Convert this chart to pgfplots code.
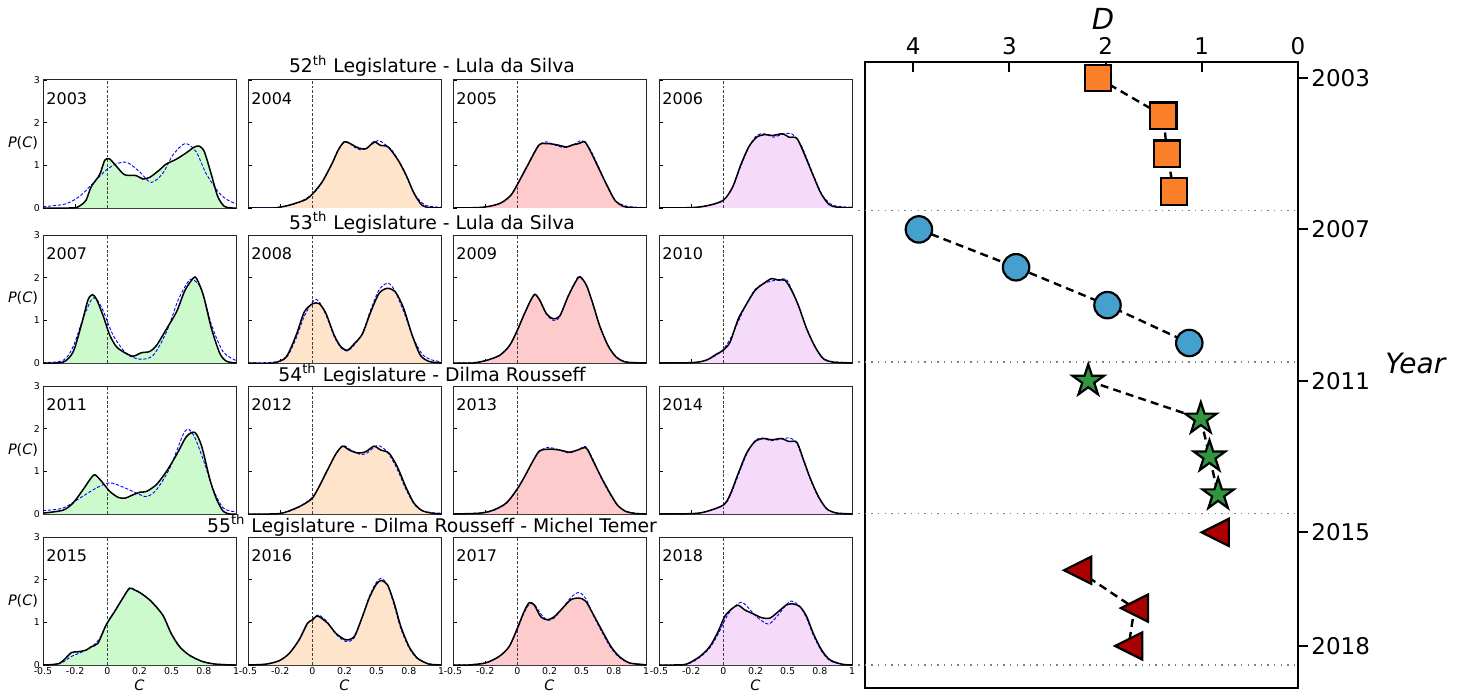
\documentclass[border=0pt]{standalone}
\usepackage{fontspec}
\setmainfont{DejaVu Sans}
\usepackage{pgfplots}
\usepackage{pgfplotstable}
\pgfplotsset{compat=1.18}

\definecolor{fgreen}{RGB}{204,250,204}
\definecolor{forange}{RGB}{253,228,203}
\definecolor{fred}{RGB}{253,203,203}
\definecolor{fpurple}{RGB}{245,218,250}
\definecolor{morange}{RGB}{250,127,40}
\definecolor{mblue}{RGB}{70,160,205}
\definecolor{mgreen}{RGB}{48,150,64}
\definecolor{mred}{RGB}{170,0,0}

\pgfdeclareplotmark{fstar}{%
  \pgfpathmoveto{\pgfqpointpolar{90}{\pgfplotmarksize}}%
  \pgfpathlineto{\pgfqpointpolar{126}{0.382\pgfplotmarksize}}%
  \pgfpathlineto{\pgfqpointpolar{162}{\pgfplotmarksize}}%
  \pgfpathlineto{\pgfqpointpolar{198}{0.382\pgfplotmarksize}}%
  \pgfpathlineto{\pgfqpointpolar{234}{\pgfplotmarksize}}%
  \pgfpathlineto{\pgfqpointpolar{270}{0.382\pgfplotmarksize}}%
  \pgfpathlineto{\pgfqpointpolar{306}{\pgfplotmarksize}}%
  \pgfpathlineto{\pgfqpointpolar{342}{0.382\pgfplotmarksize}}%
  \pgfpathlineto{\pgfqpointpolar{18}{\pgfplotmarksize}}%
  \pgfpathlineto{\pgfqpointpolar{54}{0.382\pgfplotmarksize}}%
  \pgfpathclose\pgfusepathqfillstroke}
\pgfdeclareplotmark{tleft}{%
  \pgfpathmoveto{\pgfqpoint{-\pgfplotmarksize}{0pt}}%
  \pgfpathlineto{\pgfqpoint{\pgfplotmarksize}{\pgfplotmarksize}}%
  \pgfpathlineto{\pgfqpoint{\pgfplotmarksize}{-\pgfplotmarksize}}%
  \pgfpathclose\pgfusepathqfillstroke}

% ---------------- data: black = measured P(C), fit = blue dashed ----------------
\pgfplotstableread{
x y
-0.5 0
-0.3 0
-0.24 0.01
-0.2 0.08
-0.164 0.19
-0.125 0.5
-0.06 0.78
-0.02 1.12
0.017 1.15
0.07 0.98
0.134 0.78
0.224 0.76
0.276 0.68
0.33 0.72
0.405 0.89
0.457 1.03
0.534 1.14
0.612 1.29
0.677 1.43
0.715 1.45
0.754 1.32
0.806 0.81
0.858 0.27
0.909 0.04
0.974 0
1 0
}\bA
\pgfplotstableread{
x y
-0.5 0.03
-0.4 0.06
-0.319 0.1
-0.216 0.27
-0.112 0.58
-0.009 0.89
0.082 1.05
0.159 1.06
0.25 0.85
0.34 0.6
0.43 0.81
0.509 1.24
0.604 1.51
0.69 1.32
0.767 0.81
0.87 0.35
0.94 0.18
1 0.1
}\fA
\pgfplotstableread{
x y
-0.5 0
-0.3 0
-0.267 0.01
-0.2 0.05
-0.142 0.1
-0.049 0.2
0.004 0.34
0.076 0.61
0.153 1.04
0.2 1.35
0.247 1.55
0.294 1.51
0.356 1.41
0.418 1.39
0.48 1.55
0.527 1.47
0.589 1.43
0.667 1.12
0.729 0.77
0.791 0.34
0.854 0.06
0.916 0.01
1 0
}\bB
\pgfplotstableread{
x y
-0.5 0
-0.3 0.01
-0.2 0.05
-0.1 0.14
0.0 0.32
0.076 0.6
0.153 1.04
0.2 1.36
0.26 1.56
0.33 1.42
0.38 1.36
0.43 1.42
0.51 1.58
0.56 1.5
0.62 1.35
0.68 1.05
0.74 0.68
0.8 0.3
0.87 0.08
0.94 0.03
1 0.02
}\fB
\pgfplotstableread{
x y
-0.5 0
-0.3 0.01
-0.2 0.05
-0.12 0.13
-0.05 0.3
0.0 0.55
0.08 1.0
0.166 1.47
0.228 1.51
0.291 1.49
0.35 1.45
0.384 1.43
0.43 1.48
0.478 1.51
0.525 1.55
0.572 1.31
0.634 0.92
0.697 0.53
0.759 0.18
0.822 0.04
0.884 0.01
1 0
}\bC
\pgfplotstableread{
x y
-0.5 0
-0.3 0.01
-0.2 0.05
-0.12 0.13
-0.05 0.3
0.0 0.55
0.08 1.0
0.166 1.45
0.22 1.55
0.29 1.48
0.36 1.42
0.43 1.47
0.5 1.58
0.56 1.4
0.634 0.95
0.697 0.52
0.759 0.18
0.84 0.05
0.92 0.02
1 0.01
}\fC
\pgfplotstableread{
x y
-0.5 0
-0.24 0.01
-0.116 0.06
0.0 0.18
0.072 0.49
0.134 1.0
0.197 1.43
0.259 1.66
0.322 1.72
0.384 1.7
0.462 1.74
0.509 1.66
0.572 1.63
0.634 1.23
0.697 0.77
0.759 0.34
0.822 0.08
0.884 0.02
1 0
}\bD
\pgfplotstableread{
x y
-0.5 0
-0.24 0.01
-0.116 0.06
0.0 0.19
0.072 0.48
0.134 0.97
0.197 1.42
0.26 1.7
0.32 1.74
0.39 1.66
0.45 1.72
0.53 1.74
0.6 1.5
0.65 1.15
0.71 0.7
0.77 0.3
0.84 0.08
0.92 0.03
1 0.02
}\fD
\pgfplotstableread{
x y
-0.5 0
-0.344 0.02
-0.266 0.26
-0.202 0.89
-0.15 1.48
-0.116 1.6
-0.085 1.5
-0.033 1.11
0.019 0.65
0.071 0.38
0.136 0.24
0.2 0.16
0.265 0.24
0.33 0.27
0.382 0.41
0.46 0.8
0.538 1.2
0.603 1.7
0.668 1.99
0.694 1.98
0.746 1.59
0.81 0.8
0.875 0.22
0.927 0.04
1 0
}\bE
\pgfplotstableread{
x y
-0.5 0.01
-0.344 0.06
-0.266 0.38
-0.189 1.04
-0.124 1.48
-0.085 1.5
-0.033 1.23
0.045 0.65
0.149 0.22
0.253 0.09
0.356 0.18
0.46 0.73
0.551 1.48
0.629 1.91
0.668 1.95
0.733 1.72
0.81 0.89
0.901 0.26
1 0.06
}\fE
\pgfplotstableread{
x y
-0.5 0
-0.307 0.0
-0.204 0.14
-0.126 0.65
-0.062 1.2
0.003 1.39
0.054 1.39
0.106 1.16
0.17 0.65
0.222 0.38
0.273 0.3
0.325 0.45
0.389 0.68
0.454 1.2
0.518 1.63
0.582 1.75
0.647 1.66
0.711 1.27
0.776 0.65
0.84 0.18
0.904 0.04
0.969 0.01
1 0
}\bF
\pgfplotstableread{
x y
-0.5 0
-0.3 0.02
-0.204 0.12
-0.13 0.55
-0.062 1.1
0.01 1.46
0.05 1.45
0.11 1.1
0.17 0.62
0.222 0.36
0.27 0.28
0.325 0.42
0.389 0.7
0.454 1.25
0.52 1.72
0.587 1.87
0.64 1.7
0.711 1.2
0.78 0.62
0.85 0.22
0.92 0.08
1 0.03
}\fF
\pgfplotstableread{
x y
-0.5 0
-0.345 0
-0.242 0.06
-0.137 0.18
-0.06 0.41
0.0 0.77
0.044 1.08
0.096 1.42
0.135 1.61
0.173 1.48
0.225 1.16
0.277 1.04
0.329 1.1
0.393 1.55
0.445 1.86
0.484 2.02
0.536 1.83
0.587 1.39
0.639 0.88
0.704 0.41
0.768 0.14
0.845 0.02
1 0
}\bG
\pgfplotstableread{
x y
-0.5 0
-0.345 0.01
-0.242 0.06
-0.137 0.18
-0.06 0.42
0.0 0.76
0.044 1.07
0.096 1.43
0.135 1.6
0.173 1.47
0.225 1.15
0.28 1.0
0.329 1.08
0.393 1.56
0.445 1.88
0.484 2.04
0.536 1.82
0.587 1.38
0.639 0.87
0.704 0.42
0.768 0.15
0.845 0.03
1 0.01
}\fG
\pgfplotstableread{
x y
-0.5 0
-0.233 0.01
-0.13 0.07
-0.052 0.21
0.0 0.3
0.052 0.49
0.117 1.04
0.182 1.39
0.246 1.7
0.311 1.86
0.376 1.98
0.428 1.94
0.48 1.94
0.531 1.7
0.583 1.35
0.648 0.8
0.713 0.38
0.777 0.1
0.855 0.02
1 0
}\bH
\pgfplotstableread{
x y
-0.5 0
-0.233 0.01
-0.13 0.07
-0.052 0.19
0.0 0.32
0.06 0.6
0.117 0.98
0.182 1.4
0.246 1.72
0.311 1.86
0.376 1.92
0.44 1.96
0.49 1.96
0.531 1.72
0.583 1.36
0.648 0.8
0.713 0.37
0.777 0.11
0.855 0.03
1 0.01
}\fH
\pgfplotstableread{
x y
-0.5 0.02
-0.344 0.09
-0.266 0.26
-0.189 0.57
-0.137 0.8
-0.098 0.92
-0.046 0.77
0.019 0.53
0.084 0.39
0.136 0.37
0.2 0.45
0.253 0.51
0.305 0.53
0.382 0.69
0.46 1.0
0.538 1.39
0.616 1.82
0.681 1.91
0.733 1.59
0.798 0.8
0.85 0.34
0.902 0.06
0.953 0
1 0
}\bI
\pgfplotstableread{
x y
-0.5 0.08
-0.344 0.14
-0.215 0.37
-0.085 0.61
0.019 0.73
0.123 0.63
0.227 0.49
0.305 0.41
0.382 0.57
0.486 1.08
0.603 1.94
0.668 1.86
0.746 1.27
0.824 0.57
0.902 0.14
1 0.05
}\fI
\pgfplotstableread{
x y
-0.5 0
-0.255 0.01
-0.126 0.14
-0.049 0.26
0.003 0.38
0.054 0.65
0.119 1.04
0.183 1.41
0.235 1.59
0.286 1.5
0.351 1.43
0.415 1.46
0.479 1.59
0.531 1.5
0.595 1.43
0.66 1.11
0.724 0.65
0.789 0.26
0.853 0.08
0.93 0.02
1 0
}\bJ
\pgfplotstableread{
x y
-0.5 0
-0.255 0.01
-0.126 0.13
-0.049 0.27
0.003 0.4
0.054 0.65
0.119 1.03
0.183 1.4
0.24 1.6
0.3 1.5
0.37 1.4
0.42 1.42
0.5 1.6
0.55 1.55
0.6 1.38
0.66 1.05
0.724 0.6
0.789 0.24
0.853 0.08
0.93 0.03
1 0.02
}\fJ
\pgfplotstableread{
x y
-0.5 0
-0.29 0.02
-0.188 0.09
-0.085 0.26
0.0 0.59
0.057 0.88
0.121 1.24
0.173 1.48
0.25 1.52
0.327 1.5
0.405 1.45
0.469 1.5
0.534 1.55
0.585 1.27
0.649 0.88
0.714 0.52
0.778 0.21
0.843 0.06
0.92 0.01
1 0
}\bK
\pgfplotstableread{
x y
-0.5 0
-0.29 0.02
-0.188 0.08
-0.085 0.25
0.0 0.58
0.057 0.88
0.121 1.24
0.173 1.47
0.24 1.56
0.33 1.5
0.4 1.43
0.47 1.5
0.53 1.58
0.585 1.3
0.649 0.86
0.714 0.5
0.778 0.2
0.843 0.07
0.92 0.02
1 0.01
}\fK
\pgfplotstableread{
x y
-0.5 0
-0.233 0.01
-0.13 0.06
0.0 0.21
0.052 0.45
0.117 0.96
0.181 1.43
0.246 1.7
0.311 1.77
0.376 1.74
0.454 1.77
0.506 1.7
0.571 1.68
0.623 1.27
0.675 0.84
0.739 0.41
0.804 0.12
0.882 0.02
1 0
}\bL
\pgfplotstableread{
x y
-0.5 0
-0.233 0.01
-0.13 0.06
0.0 0.2
0.052 0.42
0.117 0.92
0.181 1.4
0.246 1.72
0.3 1.78
0.37 1.72
0.454 1.76
0.52 1.78
0.571 1.66
0.623 1.25
0.675 0.82
0.739 0.39
0.804 0.12
0.882 0.03
1 0.01
}\fL
\pgfplotstableread{
x y
-0.5 0
-0.371 0.04
-0.28 0.29
-0.228 0.31
-0.164 0.35
-0.125 0.43
-0.073 0.51
-0.009 0.94
0.056 1.25
0.121 1.57
0.172 1.8
0.211 1.76
0.263 1.68
0.341 1.49
0.431 1.17
0.496 0.74
0.561 0.43
0.638 0.23
0.741 0.08
0.845 0.02
0.974 0
1 0
}\bM
\pgfplotstableread{
x y
-0.5 0.01
-0.371 0.03
-0.28 0.2
-0.2 0.3
-0.125 0.42
-0.06 0.62
-0.009 0.94
0.056 1.26
0.121 1.57
0.17 1.78
0.211 1.77
0.263 1.67
0.341 1.5
0.431 1.17
0.496 0.75
0.561 0.44
0.638 0.22
0.741 0.08
0.845 0.02
1 0.01
}\fM
\pgfplotstableread{
x y
-0.5 0
-0.361 0.02
-0.258 0.1
-0.18 0.27
-0.103 0.59
-0.038 0.98
0.003 1.06
0.042 1.15
0.119 0.98
0.184 0.74
0.261 0.59
0.326 0.67
0.39 1.14
0.442 1.57
0.494 1.88
0.533 1.98
0.584 1.88
0.636 1.45
0.688 0.9
0.752 0.43
0.817 0.16
0.907 0.02
1 0
}\bN
\pgfplotstableread{
x y
-0.5 0
-0.361 0.02
-0.258 0.1
-0.18 0.27
-0.103 0.58
-0.038 0.96
0.003 1.08
0.05 1.17
0.119 1.0
0.184 0.72
0.261 0.55
0.326 0.64
0.39 1.15
0.442 1.6
0.494 1.92
0.533 2.03
0.584 1.88
0.636 1.4
0.688 0.85
0.752 0.4
0.817 0.15
0.907 0.03
1 0.01
}\fN
\pgfplotstableread{
x y
-0.5 0
-0.375 0
-0.246 0.05
-0.142 0.2
-0.064 0.43
0.0 0.86
0.052 1.25
0.092 1.46
0.131 1.41
0.182 1.13
0.234 1.06
0.286 1.13
0.351 1.33
0.416 1.53
0.481 1.57
0.533 1.49
0.598 1.14
0.663 0.78
0.728 0.43
0.792 0.2
0.87 0.05
0.974 0.01
1 0
}\bO
\pgfplotstableread{
x y
-0.5 0
-0.375 0.01
-0.246 0.05
-0.142 0.2
-0.064 0.43
0.0 0.84
0.052 1.22
0.092 1.42
0.131 1.42
0.182 1.2
0.234 1.05
0.286 1.1
0.351 1.33
0.416 1.58
0.478 1.7
0.533 1.55
0.598 1.12
0.663 0.74
0.728 0.4
0.792 0.18
0.87 0.05
0.95 0.02
1 0.01
}\fO
\pgfplotstableread{
x y
-0.5 0
-0.391 0
-0.287 0.02
-0.183 0.2
-0.106 0.43
-0.041 0.78
0.011 1.14
0.063 1.31
0.115 1.4
0.167 1.29
0.232 1.2
0.297 1.11
0.362 1.1
0.427 1.25
0.491 1.41
0.543 1.43
0.595 1.37
0.647 1.14
0.699 0.74
0.764 0.35
0.829 0.12
0.92 0.02
1 0
}\bP
\pgfplotstableread{
x y
-0.5 0
-0.287 0.02
-0.183 0.18
-0.106 0.4
-0.041 0.72
0.011 1.05
0.063 1.3
0.14 1.47
0.2 1.32
0.262 1.12
0.35 0.96
0.42 1.15
0.491 1.42
0.53 1.5
0.595 1.37
0.647 1.1
0.699 0.7
0.764 0.32
0.829 0.1
0.92 0.02
1 0.01
}\fP

\pgfplotsset{
  small/.style={
    scale only axis, width=96.5pt, height=64pt, anchor=south west,
    xmin=-0.5, xmax=1, ymin=0, ymax=3,
    xtick={-0.5,-0.25,0,0.25,0.5,0.75,1}, ytick={0,1,2,3},
    xticklabels={}, yticklabels={},
    tick align=inside, xtick pos=left, ytick pos=left,
    major tick length=2pt,
    tick style={black, line width=0.45pt},
    axis line style={line width=0.5pt, black!85},
    tick label style={font=\fontsize{4.7}{5.5}\selectfont},
    xticklabel style={inner sep=1.2pt},
    yticklabel style={inner sep=1.4pt},
  },
  xlab/.style={xticklabels={-0.5,-0.2,0,0.2,0.5,0.8,1}},
  ylab/.style={yticklabels={0,1,2,3}},
}

\newcommand{\panel}[7]{%
\begin{axis}[small, at={(#1,#2)}, #7]
\addplot[draw=none, fill=#4, smooth, tension=0.45] table {#5} \closedcycle;
\addplot[black!75, line width=0.4pt, dash pattern=on 1.4pt off 0.9pt] coordinates {(0,0) (0,3)};
\addplot[blue, line width=0.45pt, dash pattern=on 1.6pt off 0.9pt, smooth, tension=0.5] table {#6};
\addplot[black, line width=0.75pt, smooth, tension=0.45] table {#5};
\node[anchor=north west, inner sep=0pt, font=\fontsize{8}{9}\selectfont, xshift=1.5pt, yshift=-6.3pt] at (rel axis cs:0,1) {#3};
\end{axis}}

\begin{document}
\begin{tikzpicture}
\useasboundingbox (0,0) rectangle (730pt,346pt);

% row 1
\panel{21.5pt}{242pt}{2003}{fgreen}{\bA}{\fA}{ylab}
\panel{124pt}{242pt}{2004}{forange}{\bB}{\fB}{}
\panel{226.5pt}{242pt}{2005}{fred}{\bC}{\fC}{}
\panel{329.5pt}{242pt}{2006}{fpurple}{\bD}{\fD}{}
% row 2
\panel{21.5pt}{164.5pt}{2007}{fgreen}{\bE}{\fE}{ylab}
\panel{124pt}{164.5pt}{2008}{forange}{\bF}{\fF}{}
\panel{226.5pt}{164.5pt}{2009}{fred}{\bG}{\fG}{}
\panel{329.5pt}{164.5pt}{2010}{fpurple}{\bH}{\fH}{}
% row 3
\panel{21.5pt}{89pt}{2011}{fgreen}{\bI}{\fI}{ylab}
\panel{124pt}{89pt}{2012}{forange}{\bJ}{\fJ}{}
\panel{226.5pt}{89pt}{2013}{fred}{\bK}{\fK}{}
\panel{329.5pt}{89pt}{2014}{fpurple}{\bL}{\fL}{}
% row 4
\panel{21.5pt}{13.5pt}{2015}{fgreen}{\bM}{\fM}{ylab,xlab}
\panel{124pt}{13.5pt}{2016}{forange}{\bN}{\fN}{xlab}
\panel{226.5pt}{13.5pt}{2017}{fred}{\bO}{\fO}{xlab}
\panel{329.5pt}{13.5pt}{2018}{fpurple}{\bP}{\fP}{xlab}

% row titles
\begin{scope}[every node/.style={font=\fontsize{9.4}{11}\selectfont, anchor=base, inner sep=0pt}]
\node at (216pt,309.5pt) {52\textsuperscript{th} Legislature - Lula da Silva};
\node at (216pt,231.5pt) {53\textsuperscript{th} Legislature - Lula da Silva};
\node at (216pt,155.5pt) {54\textsuperscript{th} Legislature - Dilma Rousseff};
\node at (216pt,80pt) {55\textsuperscript{th} Legislature - Dilma Rousseff - Michel Temer};
\end{scope}

% P(C) labels and C labels
\begin{scope}[every node/.style={font=\fontsize{7.2}{8}\selectfont, inner sep=0pt}]
\node at (11.5pt,274.5pt) {\textit{P}(\textit{C})};
\node at (11.5pt,197pt) {\textit{P}(\textit{C})};
\node at (11.5pt,121pt) {\textit{P}(\textit{C})};
\node at (11.5pt,45.5pt) {\textit{P}(\textit{C})};
\node at (69.75pt,3.3pt) {\textit{C}};
\node at (172.25pt,3.3pt) {\textit{C}};
\node at (274.75pt,3.3pt) {\textit{C}};
\node at (377.75pt,3.3pt) {\textit{C}};
\end{scope}

% right panel
\begin{axis}[at={(432.5pt,2pt)}, anchor=south west, scale only axis,
  width=216.5pt, height=313pt,
  xmin=0, xmax=4.5, ymin=2002.58, ymax=2019.11,
  x dir=reverse, y dir=reverse,
  xtick={0,1,2,3,4}, xticklabels={0,1,2,3,4},
  ytick={2003,2007,2011,2015,2018}, yticklabels={2003,2007,2011,2015,2018},
  xtick pos=right, xticklabel pos=right, ytick pos=right, yticklabel pos=right,
  xtick align=inside, ytick align=outside,
  major tick length=5pt,
  tick style={black, line width=1pt},
  axis line style={line width=1.2pt, black},
  tick label style={font=\fontsize{11.5}{13}\selectfont},
  yticklabel style={inner sep=1.5pt},
  clip=false]
\addplot[gray, line width=0.6pt, dash pattern=on 0.7pt off 2.6pt] coordinates {(4.57,2006.5) (0,2006.5)};
\addplot[gray, line width=0.6pt, dash pattern=on 0.7pt off 2.6pt] coordinates {(4.57,2010.5) (0,2010.5)};
\addplot[gray, line width=0.6pt, dash pattern=on 0.7pt off 2.6pt] coordinates {(4.57,2014.5) (0,2014.5)};
\addplot[gray, line width=0.6pt, dash pattern=on 0.7pt off 2.6pt] coordinates {(4.57,2018.5) (0,2018.5)};
% dashed connections
\addplot[black, line width=1.2pt, dash pattern=on 4pt off 2.6pt] coordinates {(2.08,2003) (1.40,2004) (1.36,2005) (1.29,2006)};
\addplot[black, line width=1.2pt, dash pattern=on 4pt off 2.6pt] coordinates {(3.94,2007) (2.93,2008) (1.98,2009) (1.13,2010)};
\addplot[black, line width=1.2pt, dash pattern=on 4pt off 2.6pt] coordinates {(2.18,2011) (1.01,2012) (0.92,2013) (0.83,2014)};
\addplot[black, line width=1.2pt, dash pattern=on 4pt off 2.6pt] coordinates {(2.29,2016) (1.70,2017) (1.76,2018)};
% markers
\addplot[only marks, mark=square*, mark size=6.6pt, mark options={fill=morange, draw=black, line width=1.1pt}] coordinates {(2.08,2003) (1.40,2004) (1.36,2005) (1.29,2006)};
\addplot[only marks, mark=*, mark size=6.6pt, mark options={fill=mblue, draw=black, line width=1.1pt}] coordinates {(3.94,2007) (2.93,2008) (1.98,2009) (1.13,2010)};
\addplot[only marks, mark=fstar, mark size=8.3pt, mark options={fill=mgreen, draw=black, line width=1.1pt}] coordinates {(2.18,2011) (1.01,2012) (0.92,2013) (0.83,2014)};
\addplot[only marks, mark=tleft, mark size=6.8pt, mark options={fill=mred, draw=black, line width=1.1pt}] coordinates {(0.86,2015) (2.29,2016) (1.70,2017) (1.76,2018)};
\end{axis}

\node[font=\fontsize{14.5}{16}\selectfont] at (551.5pt,336.75pt) {\textit{D}};
\node[font=\fontsize{14}{16}\selectfont] at (708pt,164.5pt) {\textit{Year}};
\end{tikzpicture}
\end{document}
